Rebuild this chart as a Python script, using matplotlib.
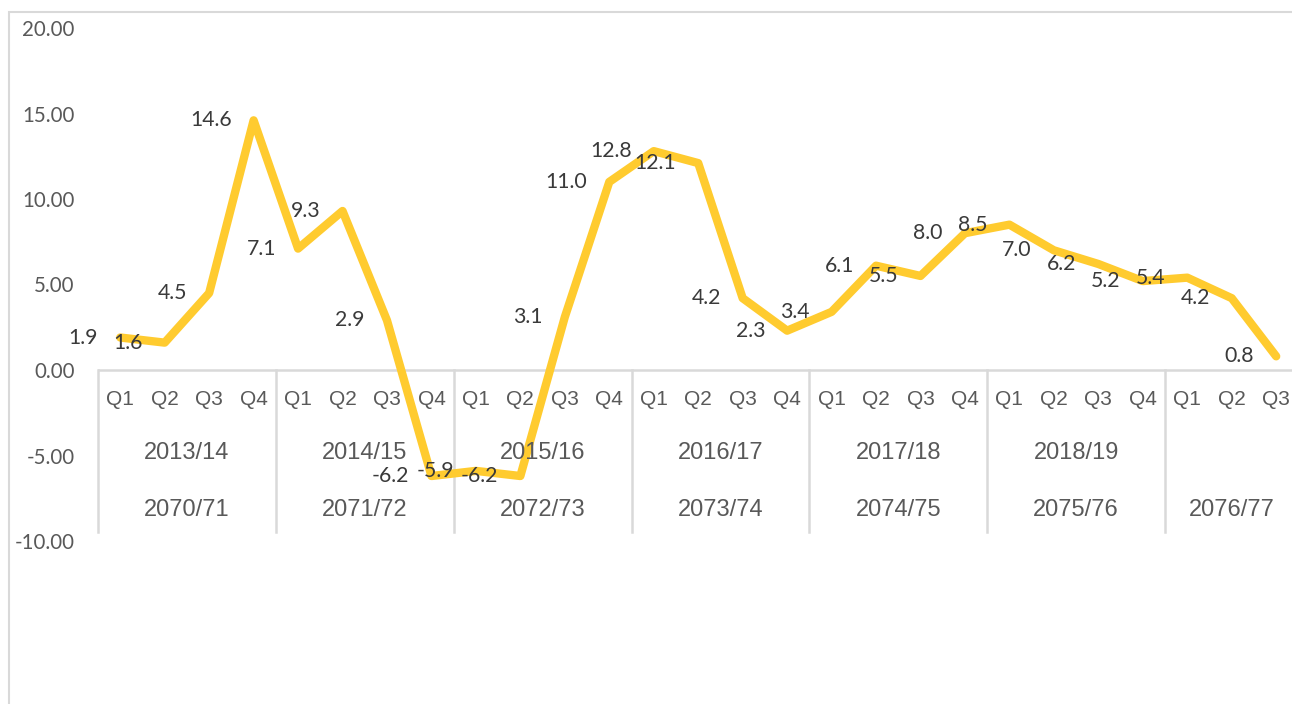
import matplotlib
matplotlib.use("Agg")
import matplotlib.pyplot as plt
from matplotlib.patches import Rectangle
from matplotlib.transforms import blended_transform_factory

# quarterly growth (%)
values = [1.9, 1.6, 4.5, 14.6,
          7.1, 9.3, 2.9, -6.2,
          -5.9, -6.2, 3.1, 11.0,
          12.8, 12.1, 4.2, 2.3,
          3.4, 6.1, 5.5, 8.0,
          8.5, 7.0, 6.2, 5.2,
          5.4, 4.2, 0.8]
group_sizes = [4, 4, 4, 4, 4, 4, 3]
fy_ad = ["2013/14", "2014/15", "2015/16", "2016/17", "2017/18", "2018/19", ""]
fy_bs = ["2070/71", "2071/72", "2072/73", "2073/74", "2074/75", "2075/76", "2076/77"]
quarters = ["Q1", "Q2", "Q3", "Q4"]
yticks = [-10, -5, 0, 5, 10, 15, 20]

W, H = 1292, 704
fig = plt.figure(figsize=(W / 100, H / 100), dpi=100)

# chart area border (only top and left visible in the original)
fig.add_artist(Rectangle((9 / W, -0.1), 1.2, (H - 12) / H + 0.1, transform=fig.transFigure,
                         fill=False, edgecolor="#d9d9d9", lw=1.5))

ax = fig.add_axes([98 / W, (H - 541) / H, (W - 98) / W, 513 / H])
n = len(values)
step = 44.46
ax.set_xlim(-0.5, -0.5 + (W - 98) / step)
ax.set_ylim(-10, 20)
for s in ax.spines.values():
    s.set_visible(False)
ax.set_xticks([])
ax.set_yticks(yticks)
ax.set_yticklabels([f"{v:.2f}" for v in yticks], family=["Lato", "DejaVu Sans"],
                   fontsize=14.8, color="#595959")
ax.tick_params(axis="y", length=0, pad=17)

# zero line / category axis
ax.axhline(0, color="#d9d9d9", lw=1.8, zorder=1)

x = list(range(n))
ax.plot(x, values, color="#FFCB2F", lw=6.0, solid_capstyle="round",
        solid_joinstyle="round", zorder=3, clip_on=False)

for xi, v in zip(x, values):
    ax.annotate(f"{v:.1f}", (xi, v), xytext=(-22, 0), textcoords="offset pixels",
                ha="right", va="center", fontsize=15.3, color="#3a3a3a",
                family=["Lato", "DejaVu Sans"], zorder=4)

# multi-level category labels
tr = blended_transform_factory(ax.transData, ax.transAxes)
narrow = ["Liberation Sans Narrow", "Liberation Sans", "DejaVu Sans"]
start = 0
for size, ad, bs in zip(group_sizes, fy_ad, fy_bs):
    ax.plot([start - 0.5, start - 0.5], [0.3333, 0.0175], transform=tr,
            color="#d9d9d9", lw=1.8, clip_on=False)
    for q in range(size):
        ax.text(start + q, 0.275, quarters[q], transform=tr, ha="center", va="center",
                fontsize=15, color="#595959", family=narrow)
    mid = start + (size - 1) / 2
    if ad:
        ax.text(mid, 0.1715, ad, transform=tr, ha="center", va="center",
                fontsize=17, color="#595959", family=narrow)
    ax.text(mid, 0.060, bs, transform=tr, ha="center", va="center",
            fontsize=17, color="#595959", family=narrow)
    start += size

fig.savefig("out.png", dpi=100)
